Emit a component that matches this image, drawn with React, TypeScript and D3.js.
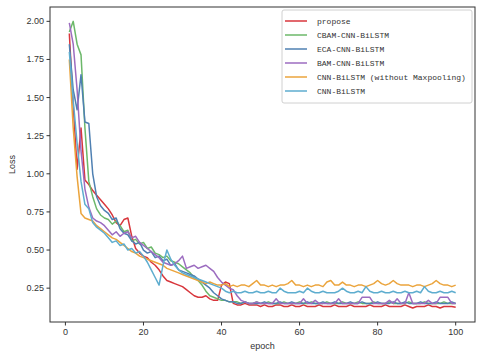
import React from "react";
import * as d3 from "d3";

const epochs: number[] = Array.from({ length: 100 }, (_, i) => i + 1);

const propose: number[] = [
  1.92, 1.45, 1.03, 1.30, 0.96, 0.93, 0.89, 0.86, 0.83, 0.80,
  0.77, 0.73, 0.68, 0.66, 0.70, 0.71, 0.59, 0.51, 0.48, 0.46,
  0.45, 0.42, 0.40, 0.37, 0.33, 0.30, 0.29, 0.28, 0.27, 0.26,
  0.24, 0.22, 0.20, 0.19, 0.19, 0.20, 0.18, 0.17, 0.17, 0.27,
  0.29, 0.28, 0.15, 0.14, 0.14, 0.15, 0.14, 0.14, 0.14, 0.13,
  0.14, 0.13, 0.13, 0.14, 0.14, 0.13, 0.13, 0.14, 0.13, 0.13,
  0.14, 0.13, 0.13, 0.13, 0.14, 0.13, 0.13, 0.13, 0.14, 0.13,
  0.13, 0.13, 0.14, 0.13, 0.13, 0.13, 0.13, 0.14, 0.13, 0.13,
  0.13, 0.14, 0.13, 0.13, 0.13, 0.13, 0.14, 0.13, 0.12, 0.13,
  0.13, 0.13, 0.14, 0.13, 0.13, 0.12, 0.13, 0.13, 0.13, 0.125,
];

const cbam: number[] = [
  1.93, 2.00, 1.85, 1.78, 1.30, 0.95, 0.85, 0.77, 0.73, 0.71,
  0.70, 0.67, 0.69, 0.66, 0.62, 0.63, 0.56, 0.57, 0.54, 0.55,
  0.51, 0.52, 0.48, 0.47, 0.45, 0.46, 0.43, 0.42, 0.41, 0.39,
  0.37, 0.35, 0.32, 0.30, 0.27, 0.23, 0.20, 0.19, 0.18, 0.17,
  0.17, 0.16, 0.16, 0.16, 0.15, 0.16, 0.15, 0.15, 0.16, 0.15,
  0.15, 0.16, 0.15, 0.15, 0.15, 0.16, 0.15, 0.15, 0.15, 0.16,
  0.15, 0.15, 0.16, 0.15, 0.15, 0.15, 0.16, 0.15, 0.15, 0.15,
  0.16, 0.15, 0.15, 0.15, 0.16, 0.15, 0.15, 0.15, 0.16, 0.15,
  0.15, 0.15, 0.16, 0.15, 0.15, 0.15, 0.15, 0.16, 0.15, 0.15,
  0.15, 0.16, 0.15, 0.15, 0.15, 0.15, 0.16, 0.15, 0.15, 0.15,
];

const eca: number[] = [
  1.85, 1.55, 1.42, 1.65, 1.34, 1.33, 1.00, 0.85, 0.79, 0.76,
  0.74, 0.70, 0.71, 0.64, 0.61, 0.60, 0.56, 0.54, 0.55, 0.50,
  0.48, 0.49, 0.45, 0.46, 0.43, 0.44, 0.40, 0.41, 0.37, 0.36,
  0.35, 0.34, 0.33, 0.31, 0.29, 0.27, 0.25, 0.22, 0.20, 0.18,
  0.17, 0.16, 0.16, 0.15, 0.15, 0.16, 0.15, 0.15, 0.15, 0.15,
  0.16, 0.15, 0.15, 0.15, 0.16, 0.15, 0.15, 0.16, 0.15, 0.15,
  0.15, 0.16, 0.15, 0.15, 0.15, 0.16, 0.15, 0.15, 0.16, 0.15,
  0.15, 0.15, 0.16, 0.15, 0.15, 0.16, 0.15, 0.15, 0.15, 0.16,
  0.15, 0.15, 0.15, 0.16, 0.15, 0.15, 0.16, 0.15, 0.15, 0.15,
  0.16, 0.15, 0.15, 0.15, 0.16, 0.15, 0.15, 0.15, 0.16, 0.15,
];

const bam: number[] = [
  1.99, 1.85, 1.55, 1.15, 0.90, 0.78, 0.71, 0.69, 0.68, 0.66,
  0.63, 0.60, 0.62, 0.59, 0.61, 0.62, 0.58, 0.59, 0.55, 0.53,
  0.51, 0.49, 0.47, 0.45, 0.42, 0.41, 0.40, 0.41, 0.43, 0.46,
  0.38, 0.39, 0.40, 0.38, 0.39, 0.40, 0.38, 0.36, 0.32, 0.29,
  0.27, 0.25, 0.24, 0.20, 0.17, 0.16, 0.15, 0.15, 0.16, 0.15,
  0.15, 0.15, 0.15, 0.18, 0.15, 0.15, 0.15, 0.15, 0.15, 0.15,
  0.18, 0.15, 0.15, 0.17, 0.15, 0.15, 0.15, 0.15, 0.15, 0.18,
  0.15, 0.15, 0.15, 0.15, 0.15, 0.19, 0.19, 0.19, 0.15, 0.15,
  0.15, 0.15, 0.17, 0.15, 0.18, 0.15, 0.15, 0.22, 0.15, 0.15,
  0.15, 0.15, 0.17, 0.15, 0.15, 0.19, 0.19, 0.19, 0.15, 0.15,
];

const noPool: number[] = [
  1.75, 1.30, 0.98, 0.74, 0.71, 0.70, 0.69, 0.66, 0.64, 0.62,
  0.60, 0.58, 0.57, 0.55, 0.53, 0.51, 0.49, 0.48, 0.46, 0.45,
  0.44, 0.43, 0.42, 0.41, 0.40, 0.38, 0.37, 0.36, 0.35, 0.34,
  0.33, 0.32, 0.31, 0.30, 0.29, 0.28, 0.29, 0.28, 0.27, 0.27,
  0.28, 0.26, 0.27, 0.26, 0.27, 0.27, 0.26, 0.28, 0.30, 0.27,
  0.27, 0.26, 0.27, 0.26, 0.27, 0.27, 0.28, 0.30, 0.27, 0.27,
  0.26, 0.27, 0.26, 0.27, 0.27, 0.26, 0.29, 0.30, 0.27, 0.27,
  0.29, 0.27, 0.27, 0.26, 0.27, 0.27, 0.26, 0.27, 0.28, 0.30,
  0.28, 0.27, 0.28, 0.30, 0.28, 0.27, 0.27, 0.27, 0.26, 0.27,
  0.27, 0.26, 0.27, 0.28, 0.30, 0.28, 0.27, 0.27, 0.26, 0.27,
];

const cnnBilstm: number[] = [
  1.80, 1.48, 1.20, 0.95, 0.80, 0.77, 0.68, 0.65, 0.63, 0.61,
  0.58, 0.55, 0.56, 0.53, 0.54, 0.50, 0.51, 0.48, 0.49, 0.46,
  0.42, 0.37, 0.32, 0.27, 0.40, 0.50, 0.44, 0.40, 0.37, 0.35,
  0.34, 0.33, 0.32, 0.31, 0.30, 0.29, 0.28, 0.27, 0.26, 0.25,
  0.23, 0.22, 0.23, 0.22, 0.22, 0.23, 0.22, 0.22, 0.23, 0.22,
  0.22, 0.23, 0.22, 0.22, 0.25, 0.23, 0.22, 0.22, 0.22, 0.23,
  0.22, 0.25, 0.23, 0.22, 0.22, 0.23, 0.22, 0.22, 0.22, 0.23,
  0.25, 0.23, 0.22, 0.22, 0.23, 0.22, 0.26, 0.23, 0.22, 0.22,
  0.23, 0.22, 0.22, 0.23, 0.22, 0.22, 0.23, 0.22, 0.22, 0.23,
  0.22, 0.26, 0.23, 0.22, 0.22, 0.23, 0.22, 0.22, 0.23, 0.22,
];

const seriesNames: string[] = [
  "propose",
  "CBAM-CNN-BiLSTM",
  "ECA-CNN-BiLSTM",
  "BAM-CNN-BiLSTM",
  "CNN-BiLSTM (without Maxpooling)",
  "CNN-BiLSTM",
];
const seriesValues: number[][] = [propose, cbam, eca, bam, noPool, cnnBilstm];
const seriesColors: string[] = ["#d8363c", "#6cb86a", "#4f80b2", "#9c6cc0", "#eba43c", "#5eadcf"];
const xTicks: number[] = [0, 20, 40, 60, 80, 100];
const yTicks: number[] = [0.25, 0.5, 0.75, 1.0, 1.25, 1.5, 1.75, 2.0];

const W = 480;
const H = 355;
const left = 50, right = 475, top = 7, bottom = 322;

export default function App() {
  const x = d3.scaleLinear().domain([-3.95, 104.95]).range([left, right]);
  const y = d3.scaleLinear().domain([0.028, 2.094]).range([bottom, top]);
  const line = d3
    .line<number>()
    .x((_, i) => x(epochs[i]))
    .y((d) => y(d));

  const tickFont = "'Liberation Sans', Arial, sans-serif";
  const monoFont = "'Liberation Mono', 'DejaVu Sans Mono', monospace";

  return (
    <svg
      width={W}
      height={H}
      style={{ position: "absolute", left: 0, top: 0, background: "#fff" }}
    >
      <rect x={0} y={0} width={W} height={H} fill="#fff" />
      {seriesValues.map((vals, k) => (
        <path
          key={k}
          d={line(vals) || ""}
          fill="none"
          stroke={seriesColors[k]}
          strokeWidth={1.5}
          strokeLinejoin="round"
        />
      ))}
      <rect
        x={left}
        y={top}
        width={right - left}
        height={bottom - top}
        fill="none"
        stroke="#333"
        strokeWidth={1}
      />
      {yTicks.map((t) => (
        <g key={t}>
          <line x1={left - 3.5} x2={left} y1={y(t)} y2={y(t)} stroke="#333" />
          <text
            x={left - 6}
            y={y(t) + 3}
            textAnchor="end"
            fontSize={9}
            fontFamily={tickFont}
            fill="#333"
          >
            {t.toFixed(2)}
          </text>
        </g>
      ))}
      {xTicks.map((t) => (
        <g key={t}>
          <line x1={x(t)} x2={x(t)} y1={bottom} y2={bottom + 3.5} stroke="#333" />
          <text
            x={x(t)}
            y={bottom + 13}
            textAnchor="middle"
            fontSize={9}
            fontFamily={tickFont}
            fill="#333"
          >
            {t}
          </text>
        </g>
      ))}
      <text
        x={(left + right) / 2}
        y={349}
        textAnchor="middle"
        fontSize={9}
        fontFamily={tickFont}
        fill="#333"
      >
        epoch
      </text>
      <text
        transform={`translate(15, ${(top + bottom) / 2}) rotate(-90)`}
        textAnchor="middle"
        fontSize={9}
        fontFamily={tickFont}
        fill="#333"
      >
        Loss
      </text>
      <g>
        <rect
          x={282}
          y={10}
          width={190}
          height={93}
          rx={2}
          fill="#fff"
          fillOpacity={0.85}
          stroke="#d0d0d0"
          strokeWidth={1}
        />
        {seriesNames.map((name, k) => {
          const cy = 21 + k * 14;
          return (
            <g key={name}>
              <line x1={285} x2={307} y1={cy} y2={cy} stroke={seriesColors[k]} strokeWidth={1.5} />
              <text
                x={317}
                y={cy + 3}
                fontSize={8}
                fontFamily={monoFont}
                fill="#333"
              >
                {name}
              </text>
            </g>
          );
        })}
      </g>
    </svg>
  );
}
